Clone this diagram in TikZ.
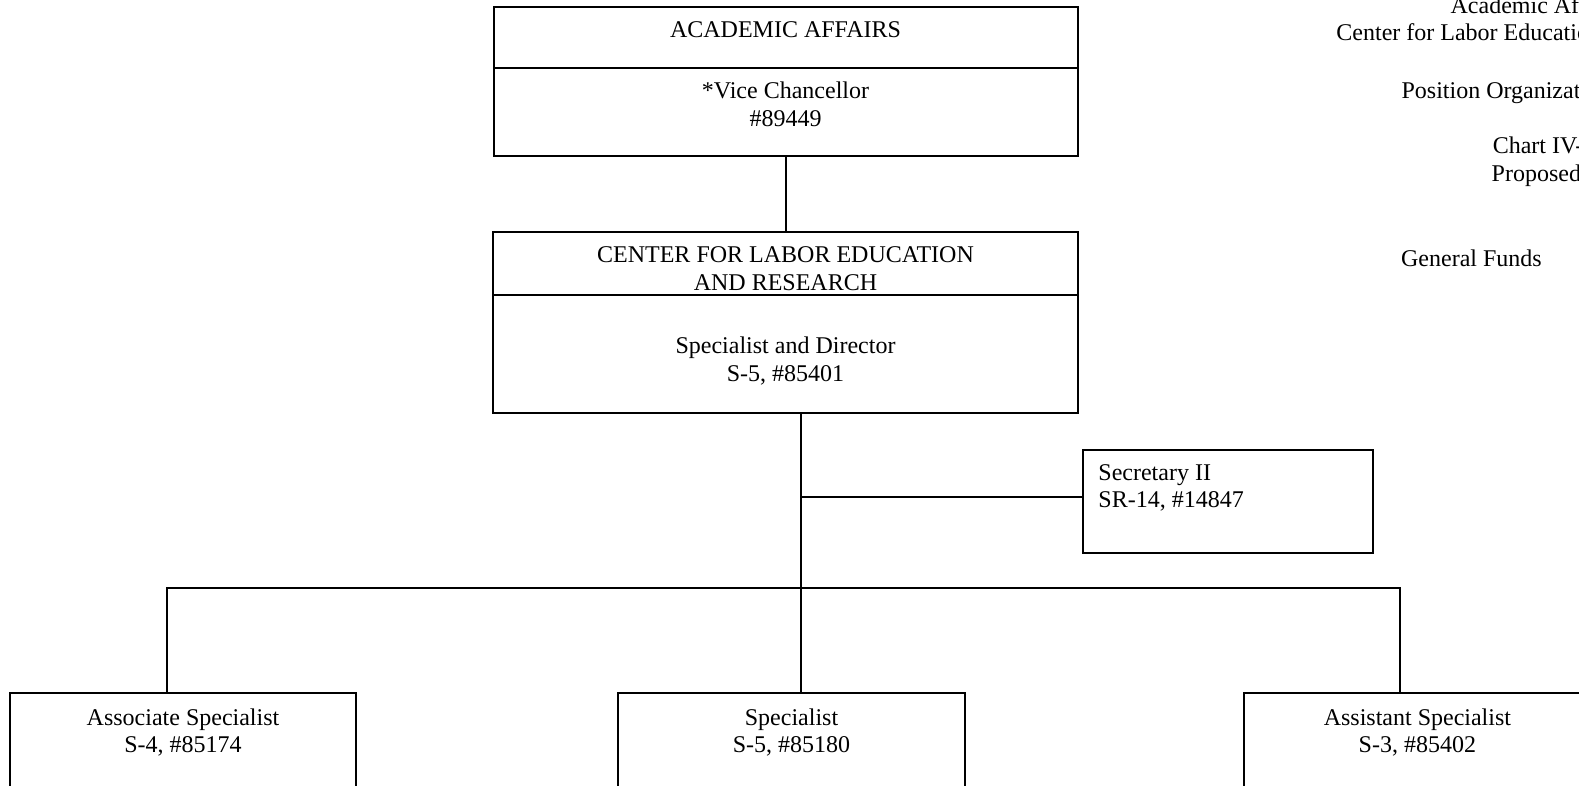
\documentclass[tikz,border=0pt]{standalone}
\usepackage{fontspec}
\setmainfont{Liberation Serif}
\begin{document}
\begin{tikzpicture}[x=0.5pt,y=-0.5pt,
  box/.style={draw, line width=1pt, inner sep=0pt, outer sep=0pt, anchor=north west},
  line/.style={line width=1pt},
  txt/.style={font=\fontsize{12}{13.9}\selectfont, inner sep=0pt, anchor=base},
  txtw/.style={txt, anchor=base west}]
\useasboundingbox (0,0) rectangle (1579,786);
\fill[white] (0,0) rectangle (1579,786);
\clip (0,0) rectangle (1579,786);

% ---- boxes ----
\node[box, minimum width=292pt, minimum height=74.75pt] (aa) at (493.5,7) {};
\node[box, minimum width=292.5pt, minimum height=90.8pt] (clr) at (492.5,231.7) {};
\node[box, minimum width=145pt, minimum height=51.5pt] (sec) at (1082.5,450) {};
\node[box, minimum width=172.75pt, minimum height=55pt] (assoc) at (10,693.3) {};
\node[box, minimum width=173.2pt, minimum height=55pt] (spec) at (618.3,693.3) {};
\node[box, minimum width=173pt, minimum height=55pt] (asst) at (1243.6,693.3) {};

% header dividers
\coordinate (d1) at (0,68);
\coordinate (d2) at (0,295);
\draw[line] (aa.west |- d1) -- (aa.east |- d1);
\draw[line] (clr.west |- d2) -- (clr.east |- d2);

% ---- connectors ----
\coordinate (trunk) at (800.5,588);
\coordinate (sj) at (800.5,496.7);
\coordinate (bl) at (166.7,588);
\coordinate (br) at (1400,588);
\draw[line] (aa.south) -- (aa.south |- clr.north);
\draw[line] (clr.south -| trunk) -- (spec.north -| trunk);
\draw[line] (sj) -- (sj -| sec.west);
\draw[line] (bl |- assoc.north) -- (bl) -- (br) -- (br |- asst.north);

% ---- box texts ----
\node[txt] (t1) at (785.5,37.5) {ACADEMIC AFFAIRS};
\node[txt] (t2) at (785.5,99) {*Vice Chancellor};
\node[txt] (t3) at (785.5,127) {\#89449};
\node[txt] (t4) at (785.5,262.5) {CENTER FOR LABOR EDUCATION};
\node[txt] (t5) at (785.5,290.3) {AND RESEARCH};
\node[txt] (t6) at (785.5,353.5) {Specialist and Director};
\node[txt] (t7) at (785.5,381.3) {S-5, \#85401};
\node[txtw] (t8) at (1098,480.5) {Secretary II};
\node[txtw] (t9) at (1098,507.5) {SR-14, \#14847};
\node[txt] (t10) at (183,725) {Associate Specialist};
\node[txt] (t11) at (183,752.8) {S-4, \#85174};
\node[txt] (t12) at (791.5,725) {Specialist};
\node[txt] (t13) at (791.5,752.8) {S-5, \#85180};
\node[txt] (t14) at (1417.4,725) {Assistant Specialist};
\node[txt] (t15) at (1417.4,752.8) {S-3, \#85402};

% ---- chart heading ----
\node[txt] (h1) at (1536,13.3) {Academic Affairs};
\node[txt] (h2) at (1536,41) {Center for Labor Education and Research};
\node[txt] (h3) at (1536,98.6) {Position Organization Chart};
\node[txtw] (h4) at (1492.4,154) {Chart IV-6};
\node[txtw] (h5) at (1491.3,182) {Proposed};
\node[txtw] (h6) at (1400.7,266.8) {General Funds};
\end{tikzpicture}
\end{document}
